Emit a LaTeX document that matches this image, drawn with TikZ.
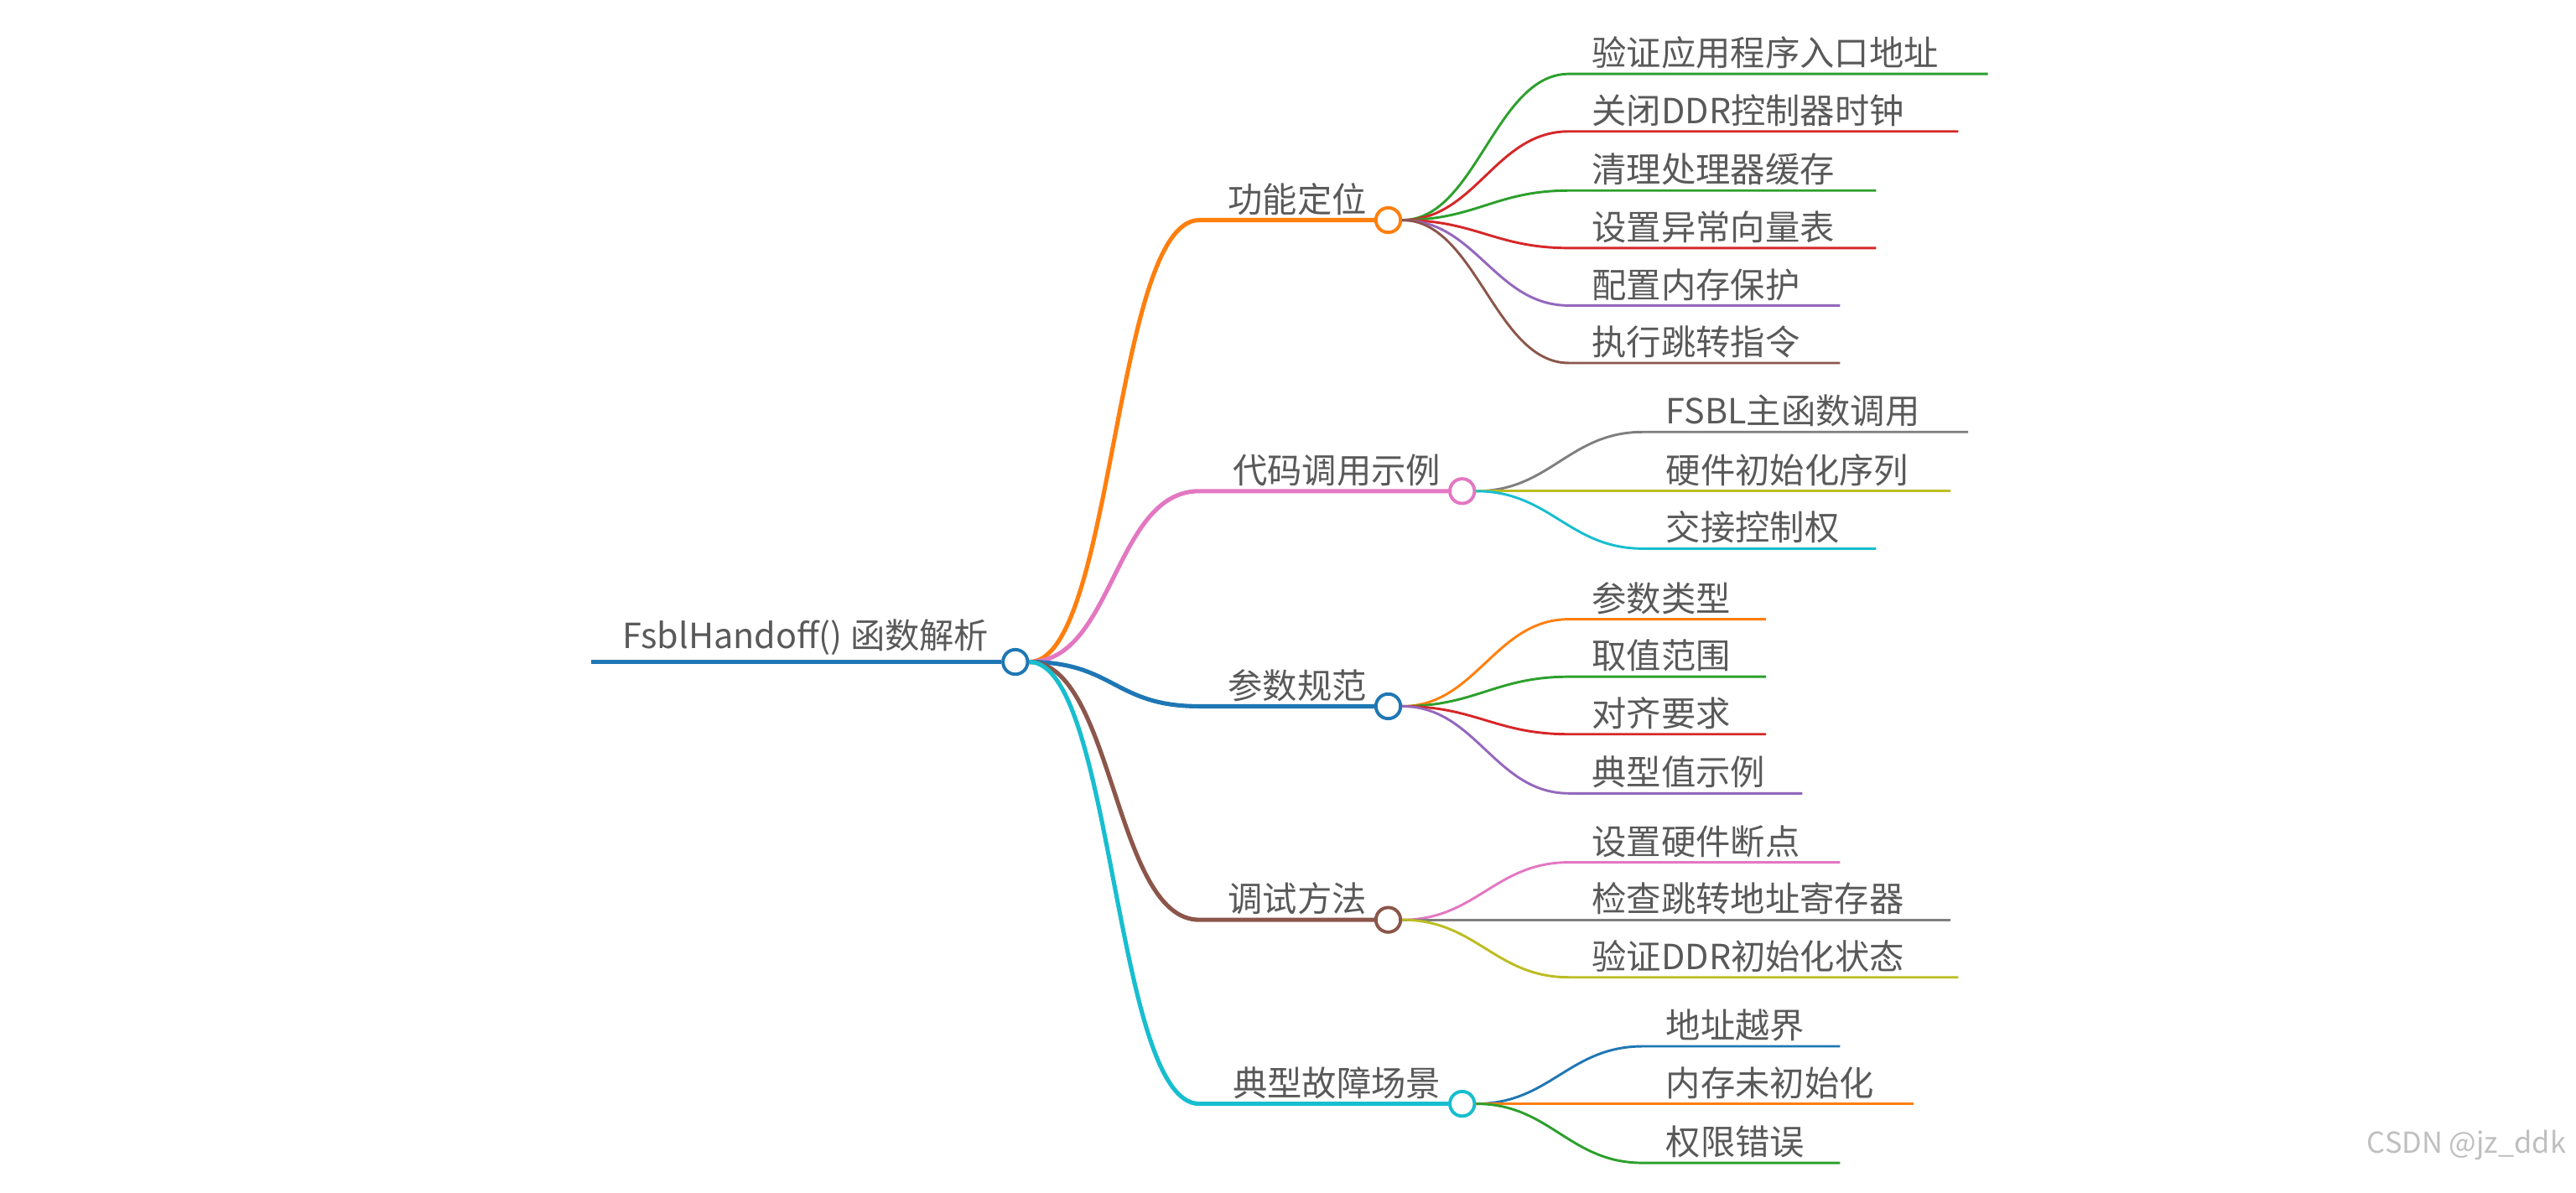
\documentclass[tikz,border=0pt]{standalone}
\usepackage{fontspec}
\setmainfont{Noto Sans CJK SC}
\begin{document}
\begin{tikzpicture}[x=1mm,y=-1mm,
  lbl/.style={font=\fontsize{60}{66}\selectfont, text=black!65, inner sep=0pt},
  dot/.style={circle, fill=white, minimum size=15mm, inner sep=0pt, line width=2mm},
  l1/.style={line width=2.6mm},
  l2/.style={line width=1.5mm}]
\definecolor{cO}{HTML}{FF7F0E}\definecolor{cP}{HTML}{E377C2}\definecolor{cB}{HTML}{1F77B4}
\definecolor{cBr}{HTML}{8C564B}\definecolor{cC}{HTML}{17BECF}\definecolor{cG}{HTML}{2CA02C}
\definecolor{cR}{HTML}{D62728}\definecolor{cPu}{HTML}{9467BD}\definecolor{cGr}{HTML}{7F7F7F}
\definecolor{cOl}{HTML}{BCBD22}
\useasboundingbox (0,0) rectangle (1568,726);
% root
\coordinate (rs) at (360,403);
\node[dot,draw=cB] (root) at (618,403) {};
\draw[cB,line width=3mm] (rs) -- (root.west);
\node[lbl,anchor=south east] (roott) at (602,399) {FsblHandoff() 函数解析};
% level 1
\foreach \n/\y/\cx/\col/\t in {a/134/845/cO/功能定位, b/299/890/cP/代码调用示例, c/430/845/cB/参数规范, d/560/845/cBr/调试方法, e/672/890/cC/典型故障场景}{
  \coordinate (\n s) at (730,\y);
  \node[dot,draw=\col] (\n) at (\cx,\y) {};
  \draw[\col,l1] (root.east) .. controls (678,403) and (678,\y) .. (\n s) -- (\n.west);
  \node[lbl,anchor=south east] (\n t) at (\cx-13,\y-3) {\t};
}
% level 2
\foreach \p/\i/\y/\sx/\ex/\col/\t in {
 a/1/45/955/1210/cG/验证应用程序入口地址, a/2/80/955/1192/cR/关闭DDR控制器时钟, a/3/116/955/1142/cG/清理处理器缓存,
 a/4/151/955/1142/cR/设置异常向量表, a/5/186/955/1120/cPu/配置内存保护, a/6/221/955/1120/cBr/执行跳转指令,
 b/1/263/1000/1198/cGr/FSBL主函数调用, b/2/299/1000/1187/cOl/硬件初始化序列, b/3/334/1000/1142/cC/交接控制权,
 c/1/377/955/1075/cO/参数类型, c/2/412/955/1075/cG/取值范围, c/3/447/955/1075/cR/对齐要求, c/4/483/955/1097/cPu/典型值示例,
 d/1/525/955/1120/cP/设置硬件断点, d/2/560/955/1187/cGr/检查跳转地址寄存器, d/3/595/955/1192/cOl/验证DDR初始化状态,
 e/1/637/1000/1120/cB/地址越界, e/2/672/1000/1165/cO/内存未初始化, e/3/708/1000/1120/cG/权限错误}{
  \coordinate (\p\i s) at (\sx,\y);
  \coordinate (\p\i e) at (\ex,\y);
  \path (\p.east) coordinate (pe);
  \draw[\col,l2] (\p.east) .. controls ([xshift=45mm]pe) and ([xshift=-45mm]\p\i s) .. (\p\i s) -- (\p\i e);
  \node[lbl,anchor=south west] (\p\i t) at (\sx+14,\y-3) {\t};
}
\node[font=\fontsize{50}{55}\selectfont, text=black!25, anchor=east, inner sep=0pt] (wm) at (1562,697) {CSDN @jz\_ddk};
\end{tikzpicture}
\end{document}
